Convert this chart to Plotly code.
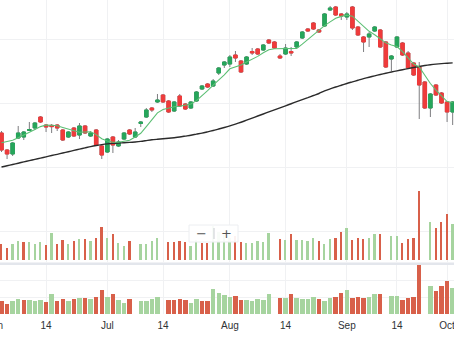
import plotly.graph_objects as go

# ---- daily bars -------------------------------------------------------------
opens = [210.72, 205.41, 204.16, 209.16, 209.47, 211.50, 212.28, 215.72, 213.22, 213.10,
         213.22, 211.66, 209.47, 212.28, 210.09, 212.91, 209.78, 211.66, 206.66, 204.78,
         209.47, 206.66, 208.84, 211.66, 209.47, 213.69, 215.72, 218.53, 220.41, 222.59,
         220.72, 217.59, 222.28, 219.78, 218.53, 220.72, 224.47, 226.03, 225.41, 229.47,
         231.97, 232.28, 235.09, 233.22, 232.28, 236.19, 236.97, 236.66, 239.78, 239.16,
         234.78, 235.41, 236.19, 237.59, 240.41, 243.22, 245.09, 242.91, 244.16, 249.16,
         250.09, 247.91, 246.97, 250.09, 243.84, 240.72, 240.72, 242.59, 242.91, 239.16,
         233.84, 237.59, 238.84, 235.72, 232.59, 231.34, 226.66, 218.53, 225.72, 223.22,
         220.41, 217.28]
highs = [211.34, 205.72, 207.91, 212.91, 211.34, 214.16, 214.16, 216.03, 213.53, 213.53,
         213.53, 211.97, 211.34, 212.59, 213.84, 213.22, 211.34, 211.97, 206.97, 209.16,
         209.78, 208.53, 211.03, 211.97, 212.28, 214.47, 218.53, 218.84, 222.91, 222.91,
         221.03, 220.72, 222.91, 220.09, 220.72, 223.84, 225.72, 226.34, 227.59, 231.34,
         233.22, 235.09, 236.34, 233.53, 234.78, 237.28, 237.28, 238.53, 240.09, 239.47,
         235.41, 238.53, 237.59, 239.47, 242.59, 243.53, 245.41, 243.22, 248.22, 250.41,
         250.41, 248.22, 248.53, 250.41, 244.16, 241.03, 242.28, 244.16, 243.22, 239.47,
         235.09, 241.03, 239.16, 236.34, 232.91, 232.91, 226.97, 223.22, 226.03, 223.53,
         220.72, 220.72]
lows = [204.78, 202.59, 203.53, 208.84, 208.53, 211.34, 211.66, 213.84, 211.03, 210.72,
        211.34, 208.22, 209.16, 209.47, 208.84, 210.41, 209.47, 206.66, 202.59, 204.47,
        204.47, 206.34, 208.53, 210.09, 209.16, 212.59, 215.41, 217.28, 220.09, 220.09,
        216.97, 217.28, 218.84, 217.91, 218.22, 220.41, 224.16, 224.78, 225.09, 228.84,
        231.03, 231.34, 232.91, 229.47, 231.97, 235.09, 235.09, 236.34, 238.53, 236.97,
        233.84, 235.09, 234.78, 237.28, 240.09, 242.28, 242.91, 241.97, 243.84, 248.84,
        247.28, 246.03, 246.03, 242.91, 241.03, 236.03, 237.59, 242.28, 237.28, 231.03,
        230.09, 237.28, 234.78, 230.72, 228.53, 215.09, 218.22, 215.72, 222.28, 219.78,
        214.16, 213.22]
closes = [205.41, 204.16, 207.59, 210.72, 211.03, 211.81, 213.84, 214.16, 212.59, 212.70,
          212.28, 208.53, 211.03, 209.78, 212.91, 210.72, 210.72, 206.97, 203.84, 208.84,
          206.97, 207.91, 210.72, 210.41, 211.03, 214.16, 217.91, 217.91, 221.03, 220.41,
          217.28, 220.41, 219.16, 218.22, 220.41, 223.53, 225.41, 225.09, 226.97, 231.03,
          232.91, 234.47, 234.16, 229.78, 234.47, 235.72, 235.41, 238.22, 238.84, 237.28,
          234.16, 237.28, 235.72, 239.16, 242.28, 242.59, 243.22, 242.28, 247.91, 249.78,
          247.59, 247.28, 247.91, 243.53, 241.34, 239.16, 241.66, 243.84, 237.59, 231.34,
          234.78, 240.72, 235.09, 231.03, 228.84, 225.72, 218.53, 222.91, 222.59, 220.09,
          217.28, 220.41]

# moving averages of the close
ma_fast = [207.66, 208.03, 208.47, 209.22, 210.03, 210.97, 211.84, 212.72, 213.22, 213.16,
           212.97, 212.44, 211.87, 211.34, 210.97, 211.03, 211.09, 210.22, 208.91, 208.22,
           207.84, 207.81, 208.03, 208.47, 209.47, 210.62, 212.72, 214.75, 217.00, 218.06,
           218.59, 218.94, 219.06, 219.31, 219.78, 220.84, 222.25, 223.94, 225.69, 227.22,
           228.91, 230.78, 231.31, 232.00, 232.91, 233.75, 234.66, 235.81, 236.75, 237.03,
           237.09, 236.94, 237.00, 237.16, 238.47, 239.94, 241.37, 242.81, 244.28, 245.44,
           246.56, 247.16, 247.56, 247.22, 245.59, 244.00, 242.50, 241.44, 240.14, 238.89,
           238.19, 237.72, 236.12, 234.09, 232.28, 231.34, 228.62, 226.19, 224.09, 222.31,
           220.53, 220.25]
ma_slow = [200.09, 200.50, 200.87, 201.28, 201.69, 202.09, 202.47, 202.87, 203.28, 203.69,
           204.06, 204.47, 204.87, 205.28, 205.66, 206.06, 206.47, 206.81, 207.09, 207.31,
           207.47, 207.59, 207.69, 207.78, 207.91, 208.09, 208.34, 208.59, 208.75, 208.91,
           209.06, 209.25, 209.47, 209.75, 210.03, 210.37, 210.69, 211.09, 211.50, 211.97,
           212.44, 212.94, 213.50, 214.09, 214.72, 215.37, 216.03, 216.66, 217.31, 217.94,
           218.59, 219.22, 219.87, 220.50, 221.16, 221.78, 222.44, 223.06, 223.90, 224.50,
           225.10, 225.65, 226.20, 226.70, 227.20, 227.70, 228.15, 228.58, 229.00, 229.40,
           229.78, 230.15, 230.50, 230.85, 231.18, 231.50, 231.80, 232.05, 232.25, 232.40,
           232.52, 232.62]

# traded volume (millions); None where no volume was reported
volume = [4.1, 3.3, 4.1, 4.7, 4.5, 4.5, 4.0, 4.5, 3.9, 6.3,
          4.0, 4.8, 4.1, 4.7, 5.0, 5.0, 4.7, 5.3, 7.5, 5.2,
          6.1, 4.3, 3.6, 4.7, None, 4.0, 4.1, 4.6, 5.2, None,
          4.5, 4.5, 4.7, 4.5, 3.6, 4.8, 4.2, 4.2, 7.8, 6.5,
          5.8, 5.2, 5.7, 4.5, 4.3, 4.2, 4.6, 4.5, 6.3, None,
          5.1, 4.9, 6.1, 4.9, 4.8, 4.6, 5.3, 4.7, 4.1, 5.1,
          5.3, 6.5, 7.3, 4.9, 5.3, 5.0, 5.2, 6.1, 6.1, None,
          5.6, 5.6, 4.3, 5.1, 5.3, 14.8, None, 8.6, 7.2, 8.6,
          10.1, 8.1]
volume_dir = ["dn", "dn", "up", "up", "dn", "up", "up", "up", "dn", "up",
              "dn", "dn", "up", "dn", "up", "dn", "up", "dn", "dn", "up",
              "dn", "up", "up", "dn", "up", "up", "up", "up", "up", "dn",
              "dn", "dn", "dn", "dn", "up", "up", "dn", "dn", "up", "up",
              "up", "up", "dn", "dn", "up", "up", "up", "up", "up", "dn",
              "dn", "up", "dn", "up", "up", "up", "up", "dn", "up", "up",
              "dn", "dn", "up", "dn", "dn", "dn", "up", "up", "dn", "dn",
              "up", "up", "dn", "dn", "dn", "dn", "dn", "up", "dn", "dn",
              "dn", "up"]

# time scale labels (bar index of each label)
tick_bars = [8, 19, 29, 41, 51, 62, 71, 80]
tick_text = ["14", "Jul", "14", "Aug", "14", "Sep", "14", "Oct"]

bars = list(range(len(closes)))

# ---- styling ------------------------------------------------------------------
UP, DOWN, WICK = "#26a65b", "#ef3b3b", "#7d7d80"
VOL_UP, VOL_DN = "#a6d49f", "#d8604a"
GRID = "#f0f1f3"
W, H, B = 454, 341, 27
PLOT_H = H - B


def frac(px_from_top):
    return 1 - px_from_top / PLOT_H


vol_colors = [VOL_UP if d == "up" else VOL_DN for d in volume_dir]
body_hi = [max(o, c) for o, c in zip(opens, closes)]
body_lo = [min(o, c) for o, c in zip(opens, closes)]

fig = go.Figure()

# moving averages
fig.add_trace(go.Scatter(x=bars, y=ma_slow, mode="lines", xaxis="x2", yaxis="y",
                         line=dict(color="#2b2b2b", width=1.4, shape="spline",
                                   smoothing=0.6),
                         hoverinfo="skip"))
fig.add_trace(go.Scatter(x=bars, y=ma_fast, mode="lines", xaxis="x2", yaxis="y",
                         line=dict(color="#5cbf74", width=1.1), hoverinfo="skip"))

# wicks (grey) then bodies (coloured)
fig.add_trace(go.Candlestick(x=bars, open=opens, high=highs, low=lows, close=closes,
                             xaxis="x2", yaxis="y", whiskerwidth=0,
                             increasing=dict(line=dict(color=WICK, width=1), fillcolor=WICK),
                             decreasing=dict(line=dict(color=WICK, width=1), fillcolor=WICK),
                             hoverinfo="skip"))
fig.add_trace(go.Candlestick(x=bars, open=opens, high=body_hi, low=body_lo, close=closes,
                             xaxis="x2", yaxis="y", whiskerwidth=0,
                             increasing=dict(line=dict(color=UP, width=1), fillcolor=UP),
                             decreasing=dict(line=dict(color=DOWN, width=1), fillcolor=DOWN)))

# volume histogram overlaid at the foot of the price pane
fig.add_trace(go.Bar(x=bars, y=volume, xaxis="x2", yaxis="y2", width=0.32,
                     marker=dict(color=vol_colors, line=dict(width=0)), hoverinfo="skip"))
# volume pane
fig.add_trace(go.Bar(x=bars, y=volume, xaxis="x", yaxis="y3", width=0.8,
                     marker=dict(color=vol_colors, line=dict(width=0))))

x_range = [-0.27, 81.24]
axis_font = dict(family="Liberation Sans, Arial, sans-serif", size=10, color="#2f3336")

fig.update_layout(
    width=W, height=H,
    margin=dict(l=0, r=0, t=0, b=B),
    paper_bgcolor="white", plot_bgcolor="rgba(0,0,0,0)",
    showlegend=False, boxgap=0.1, boxgroupgap=0.3, bargap=0,
    xaxis=dict(domain=[0, 1], anchor="y3", range=x_range, tickmode="array",
               tickvals=tick_bars, ticktext=tick_text, showgrid=True, gridcolor=GRID,
               gridwidth=1, zeroline=False, showline=False, ticks="",
               ticklabeloverflow="allow", ticklabelstandoff=4,
               tickfont=axis_font, rangeslider=dict(visible=False)),
    xaxis2=dict(domain=[0, 1], anchor="y", matches="x", range=x_range, tickmode="array",
                tickvals=tick_bars, showticklabels=False, showgrid=True, gridcolor=GRID,
                zeroline=False, showline=False, ticks="", rangeslider=dict(visible=False)),
    yaxis=dict(domain=[frac(262), 1], anchor="x2", range=[170.41, 252.28],
               tickvals=[180, 200, 220, 240], showticklabels=False, showgrid=True,
               gridcolor=GRID, zeroline=False, showline=False, ticks=""),
    yaxis2=dict(domain=[frac(260), frac(170)], anchor="x2", range=[0.81, 19.05],
                showticklabels=False, showgrid=False, zeroline=False, showline=False),
    yaxis3=dict(domain=[0, frac(264.5)], anchor="x", range=[0, 14.85],
                tickvals=[5, 10], showticklabels=False, showgrid=True, gridcolor=GRID,
                zeroline=False, showline=False, ticks=""),
)

# pane separator
fig.add_shape(type="rect", xref="paper", yref="paper", x0=0, x1=1,
              y0=frac(265), y1=frac(262.5), fillcolor="#e3e6ec", line=dict(width=0))

# month label at the left edge, partly outside the canvas
fig.add_annotation(text="Jun", xref="paper", yref="paper", x=-5 / W, y=0,
                   yshift=-11, yanchor="middle", xanchor="center", showarrow=False,
                   font=axis_font)

# zoom control
fig.add_shape(type="rect", xref="paper", yref="paper", x0=189 / W, x1=238 / W,
              y0=frac(242), y1=frac(225), fillcolor="rgba(255,255,255,0.92)",
              line=dict(color="#eceef1", width=1))
fig.add_shape(type="line", xref="paper", yref="paper", x0=214 / W, x1=214 / W,
              y0=frac(239), y1=frac(228), line=dict(color="#c9ccd1", width=1))
fig.add_annotation(text="\u2212", xref="paper", yref="paper", x=201 / W, y=frac(233.5),
                   yanchor="middle", showarrow=False,
                   font=dict(family="DejaVu Sans", size=13, color="#555"))
fig.add_annotation(text="+", xref="paper", yref="paper", x=226 / W, y=frac(233.5),
                   yanchor="middle", showarrow=False,
                   font=dict(family="DejaVu Sans", size=13, color="#555"))

fig.write_html("out.html")
